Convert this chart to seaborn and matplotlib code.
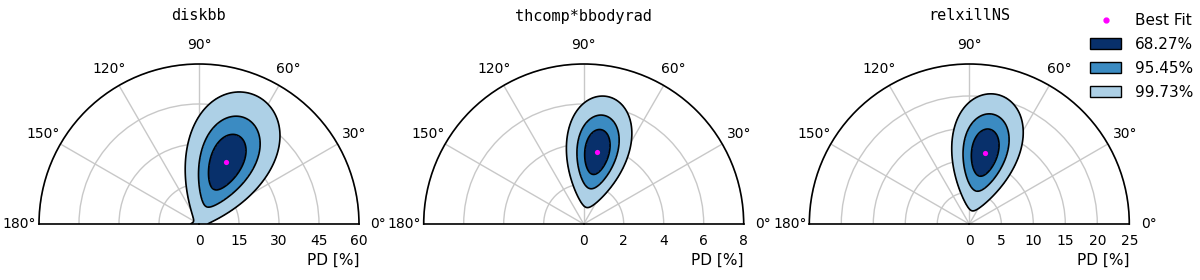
import numpy as np
import seaborn as sns
import matplotlib.pyplot as plt
from matplotlib.patches import Patch
from matplotlib.lines import Line2D

# best fit polarisation for each spectral model
models = ["diskbb", "thcomp*bbodyrad", "relxillNS"]
pd_best = [25.2, 3.66, 11.4]      # PD [%]
pa_best = [66.4, 79.6, 77.9]      # PA [deg]
sig_par = [7.3, 0.75, 2.47]       # 1-sigma along the best fit direction in Q/U [%]
sig_perp = [7.9, 0.80, 2.7]       # 1-sigma across it [%]
pd_max = [60, 8, 25]
pd_ticks = [[0, 15, 30, 45, 60], [0, 2, 4, 6, 8], [0, 5, 10, 15, 20, 25]]

conf_labels = ["68.27%", "95.45%", "99.73%"]
dchi2 = [2.30, 6.18, 14.16]

sns.set_style("white")
plt.rcParams['font.family'] = ['DejaVu Sans']
plt.rcParams['text.color'] = 'black'
plt.rcParams['xtick.color'] = 'black'
plt.rcParams['ytick.color'] = 'black'

blues = sns.color_palette("Blues", as_cmap=True)
fill_cols = [blues(1.0), blues(0.65), blues(0.33)]

W, H = 1200, 280
fig = plt.figure(figsize=(12, 2.8), dpi=100)
centers = [199, 583.7, 969.3]
rad = 160
base = 224   # baseline of the half discs, px from top

for i, name in enumerate(models):
    # the half disc sits centred in a square box
    x0 = (centers[i] - rad) / W
    y0 = (H - (base - rad / 2 + rad)) / H
    ax = fig.add_axes([x0, y0, 2 * rad / W, 2 * rad / H], projection='polar')
    ax.set_thetamin(0)
    ax.set_thetamax(180)

    # chi2 surface in Q/U space, shown in (PA, PD)
    th = np.linspace(0, np.pi, 500)
    r = np.linspace(0, pd_max[i], 500)
    T, R = np.meshgrid(th, r)
    psi = 2 * np.deg2rad(pa_best[i])
    dq = R * np.cos(2 * T) - pd_best[i] * np.cos(psi)
    du = R * np.sin(2 * T) - pd_best[i] * np.sin(psi)
    d_par = dq * np.cos(psi) + du * np.sin(psi)
    d_perp = -dq * np.sin(psi) + du * np.cos(psi)
    chi2 = (d_par / sig_par[i]) ** 2 + (d_perp / sig_perp[i]) ** 2

    ax.contourf(T, R, chi2, levels=[0] + dchi2, colors=fill_cols, zorder=2)
    ax.contour(T, R, chi2, levels=dchi2, colors='black', linewidths=1.2, zorder=3)

    sns.scatterplot(x=[np.deg2rad(pa_best[i])], y=[pd_best[i]], ax=ax, color='magenta',
                    s=14, linewidth=0, zorder=4, legend=False)

    ax.set_rlim(0, pd_max[i])
    ax.set_rticks(pd_ticks[i])
    ax.set_thetagrids(np.arange(0, 181, 30))
    ax.tick_params(labelsize=10)
    ax.grid(color='#c8c8c8', linewidth=1)
    ax.set_axisbelow(True)
    ax.set_xlabel('')
    ax.set_ylabel('')
    for sp in ax.spines.values():
        sp.set_linewidth(1.2)
        sp.set_color('black')
    fig.text(centers[i] / W, 1 - 16 / H, name, ha='center', va='center',
             fontsize=11, family='DejaVu Sans Mono')
    fig.text((centers[i] + rad) / W, 1 - 260 / H, 'PD [%]', ha='right', va='center', fontsize=11)

handles = [Line2D([], [], marker='o', color='magenta', linestyle='', markersize=3.5)]
handles += [Patch(facecolor=c, edgecolor='black') for c in fill_cols]
fig.legend(handles, ["Best Fit"] + conf_labels, loc='upper right',
           bbox_to_anchor=(1193 / W, 1 - 13 / H), borderaxespad=0, borderpad=0,
           frameon=False, fontsize=11, handlelength=2.0, handletextpad=0.9, labelspacing=0.58)

plt.savefig('out.png', dpi=100)
